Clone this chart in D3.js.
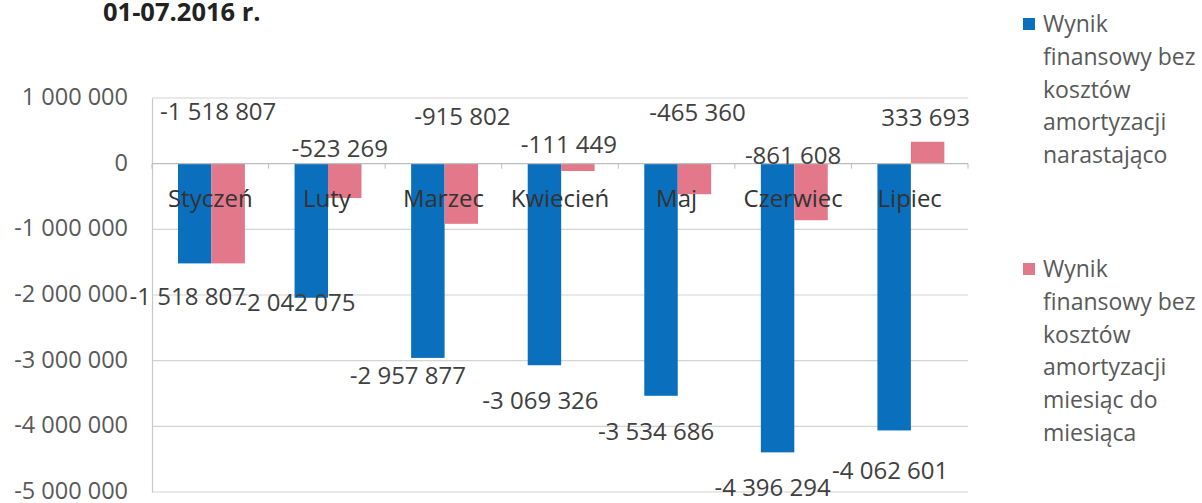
<!DOCTYPE html>
<html>
<head>
<meta charset="utf-8">
<script src="https://cdn.jsdelivr.net/npm/d3@7"></script>
<style>
  body { margin: 0; background: #fff; }
  text { font-family: "Open Sans", sans-serif; }
</style>
</head>
<body>
<script>
var months = ["Styczeń", "Luty", "Marzec", "Kwiecień", "Maj", "Czerwiec", "Lipiec"];
var cumulative = [-1518807, -2042075, -2957877, -3069326, -3534686, -4396294, -4062601];
var monthly = [-1518807, -523269, -915802, -111449, -465360, -861608, 333693];
var yTicks = [1000000, 0, -1000000, -2000000, -3000000, -4000000, -5000000];
var seriesNames = ["narastajaco", "miesiac"];
var legendLines = [
    ["Wynik", "finansowy bez", "kosztów", "amortyzacji", "narastająco"],
    ["Wynik", "finansowy bez", "kosztów", "amortyzacji", "miesiąc do", "miesiąca"]
];

// label nudges (px) - excel put the labels all over the place
var blueDx = [-7, -14, -20, -4, -5, -5, -4];
var blueDy = [33, 5, 18, 35, 36, 35, 40];
var pinkDx = [-10, -5, 1, -9, 3, -18, -2];
var pinkDy = [-52, -15, -47, -19, -51, -8, -46];

var w = 1202;
var h = 503;
var colors = ["#0a6fbd", "#e2788a"];

var svg = d3.select("body")
    .append("svg")
    .attr("width", w)
    .attr("height", h);

svg.append("rect").attr("width", w).attr("height", h).attr("fill", "#fff");

var pl = { x0: 152, x1: 968, y0: 98, y1: 492 };

var x0 = d3.scaleBand().domain(months).range([pl.x0, pl.x1]);
var x1 = d3.scaleBand().domain(seriesNames)
    .range([x0.bandwidth() * 0.223, x0.bandwidth() * 0.797]);
var y = d3.scaleLinear().domain([-5000000, 1000000]).range([pl.y1, pl.y0]);

var pl_locale = d3.formatLocale({ decimal: ",", thousands: " ", grouping: [3], currency: ["", " zł"], minus: "-" });
var fmt = pl_locale.format(",d");

// title (cut off at top in the source)
svg.append("text")
    .attr("x", 103)
    .attr("y", 21)
    .style("font-size", "25.5px")
    .style("font-weight", "bold")
    .style("fill", "#222")
    .text("01-07.2016 r.");

// gridlines
svg.append("g")
    .selectAll("line")
    .data(yTicks.filter((d) => d != 0))
    .enter()
    .append("line")
    .attr("x1", pl.x0)
    .attr("x2", pl.x1)
    .attr("y1", (d) => y(d))
    .attr("y2", (d) => y(d))
    .style("stroke", "#d4d4d4")
    .style("stroke-width", 1.2);

var yAxis = d3.axisLeft(y)
    .tickValues(yTicks)
    .tickFormat(fmt)
    .tickSize(0)
    .tickPadding(24);

var yg = svg.append("g")
    .attr("transform", "translate(" + pl.x0 + ",0)")
    .call(yAxis);
yg.select(".domain").style("stroke", "#c8c8c8").style("stroke-width", 1.2);
yg.selectAll("text")
    .attr("dy", "0.28em")
    .style("font-family", "Open Sans")
    .style("font-size", "23.5px")
    .style("fill", "#595959");

// bars
var groups = svg.append("g")
    .selectAll("g")
    .data(months)
    .enter()
    .append("g")
    .attr("transform", (d) => "translate(" + x0(d) + ",0)");

groups.selectAll("rect")
    .data((d, i) => [cumulative[i], monthly[i]])
    .enter()
    .append("rect")
    .attr("x", (d, j) => x1(seriesNames[j]))
    .attr("width", x1.bandwidth())
    .attr("y", (d) => y(Math.max(0, d)))
    .attr("height", (d) => Math.abs(y(d) - y(0)))
    .style("fill", (d, j) => colors[j]);

// category axis at zero
var xg = svg.append("g").attr("transform", "translate(0," + y(0) + ")");
xg.append("line")
    .attr("x1", pl.x0)
    .attr("x2", pl.x1)
    .style("stroke", "#bdbdbd")
    .style("stroke-width", 1.2);
xg.selectAll(".tk")
    .data(months.concat(["end"]))
    .enter()
    .append("line")
    .attr("class", "tk")
    .attr("x1", (d, i) => pl.x0 + i * x0.step())
    .attr("x2", (d, i) => pl.x0 + i * x0.step())
    .attr("y1", 0)
    .attr("y2", 5)
    .style("stroke", "#bdbdbd");

xg.selectAll(".cat")
    .data(months)
    .enter()
    .append("text")
    .attr("class", "cat")
    .attr("x", (d) => x0(d) + x0.bandwidth() / 2)
    .attr("y", 43)
    .attr("text-anchor", "middle")
    .style("font-size", "24px")
    .style("fill", "#333")
    .text((d) => d);

// data labels
svg.append("g")
    .selectAll("text")
    .data(cumulative)
    .enter()
    .append("text")
    .attr("x", (d, i) => x0(months[i]) + x1(seriesNames[0]) + x1.bandwidth() / 2 + blueDx[i])
    .attr("y", (d, i) => y(d) + blueDy[i])
    .attr("dy", "0.35em")
    .attr("text-anchor", "middle")
    .style("font-size", "24px")
    .style("fill", "#404040")
    .text((d) => fmt(d));

svg.append("g")
    .selectAll("text")
    .data(monthly)
    .enter()
    .append("text")
    .attr("x", (d, i) => x0(months[i]) + x1(seriesNames[1]) + x1.bandwidth() / 2 + pinkDx[i])
    .attr("y", (d, i) => y(0) + pinkDy[i])
    .attr("dy", "0.35em")
    .attr("text-anchor", "middle")
    .style("font-size", "24px")
    .style("fill", "#404040")
    .text((d) => fmt(d));

// legend
var legendTop = [32, 277];
legendLines.forEach((lines, k) => {
    var lg = svg.append("g");
    lg.append("rect")
        .attr("x", 1023)
        .attr("y", legendTop[k] - 14)
        .attr("width", 12)
        .attr("height", 12)
        .style("fill", colors[k]);
    lg.selectAll("text")
        .data(lines)
        .enter()
        .append("text")
        .attr("x", 1043)
        .attr("y", (d, i) => legendTop[k] + i * 32.8)
        .style("font-size", "23px")
        .style("fill", "#595959")
        .text((d) => d);
});
</script>
</body>
</html>
